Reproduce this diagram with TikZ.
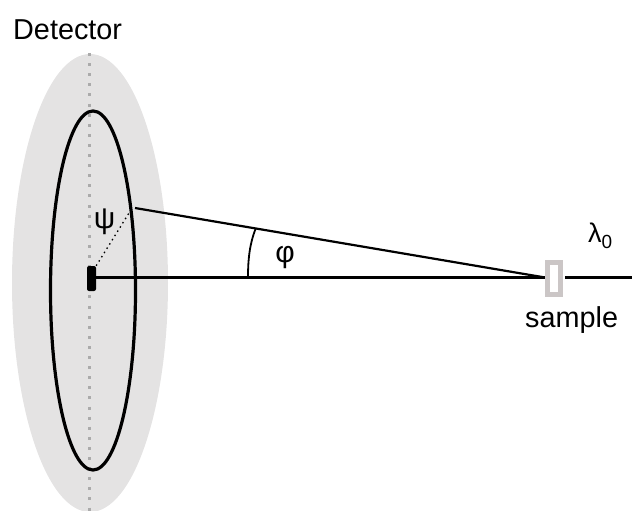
\documentclass[tikz,border=0pt]{standalone}
\usepackage{fontspec}
\setmainfont{Liberation Sans}
\definecolor{disc}{HTML}{E4E3E3}
\definecolor{samplegray}{HTML}{CBC6C6}
\tikzset{
  px/.style={x=1pt,y=-1pt},
  lab/.style={inner sep=0pt,font=\fontsize{28.8}{30}\selectfont,text=black},
  greek/.style={inner sep=0pt,font=\fontsize{30}{30}\selectfont,text=black},
  beam/.style={line width=2.8pt,black},
  ray/.style={line width=2.2pt,black},
  ring/.style={draw=black,line width=3.2pt},
}
\begin{document}
\begin{tikzpicture}[px]
\useasboundingbox (0,0) rectangle (632,511);
\begin{scope}
\clip (0,0) rectangle (632,511);
\fill[disc] (90,283) ellipse [x radius=78,y radius=229];
\draw[black!33,line width=3pt,dash pattern=on 3pt off 7.1pt] (89.5,53) -- (89.5,511);
\end{scope}
\draw[ring] (93,290.5) ellipse [x radius=42.5,y radius=179.5];
\coordinate (ringpt) at (135,208);
\coordinate (dotend) at (129,213);
\coordinate (samp) at (545,277.5);
\coordinate (out) at (632,277.5);
\coordinate (beamin) at (565,277.5);
\coordinate (arcA) at (255.5,229);
\coordinate (arcB) at (248,277);
\node[fill=black,rounded corners=2pt,minimum width=9pt,minimum height=25pt,inner sep=0pt] (det) at (91.5,278.5) {};
\draw[beam] (det.east |- samp) -- (samp);
\draw[ray] (ringpt) -- (samp);
\node[draw=samplegray,fill=white,line width=5pt,minimum width=13pt,minimum height=32pt,inner sep=0pt] (sample) at (554,278.5) {};
\draw[beam,line width=3.4pt] (beamin) -- (out);
\draw[black,line width=1.3pt,dash pattern=on 1.5pt off 3.5pt] (det.north east) -- (dotend);
\draw[black,line width=1.8pt] (arcA) .. controls (250,243) and (248,258) .. (arcB);
\node[lab,anchor=west] (dtxt) at (13,30) {Detector};
\node[lab,anchor=west] (stxt) at (525,320) {sample};
\node[greek] (psi) at (104.5,222) {ψ};
\node[greek] (phi) at (285,258) {φ};
\node[inner sep=0pt,anchor=west] (lam) at (588,236) {\fontsize{27}{28}\selectfont λ\raisebox{-6pt}{\fontsize{19}{20}\selectfont 0}};
\end{tikzpicture}
\end{document}
